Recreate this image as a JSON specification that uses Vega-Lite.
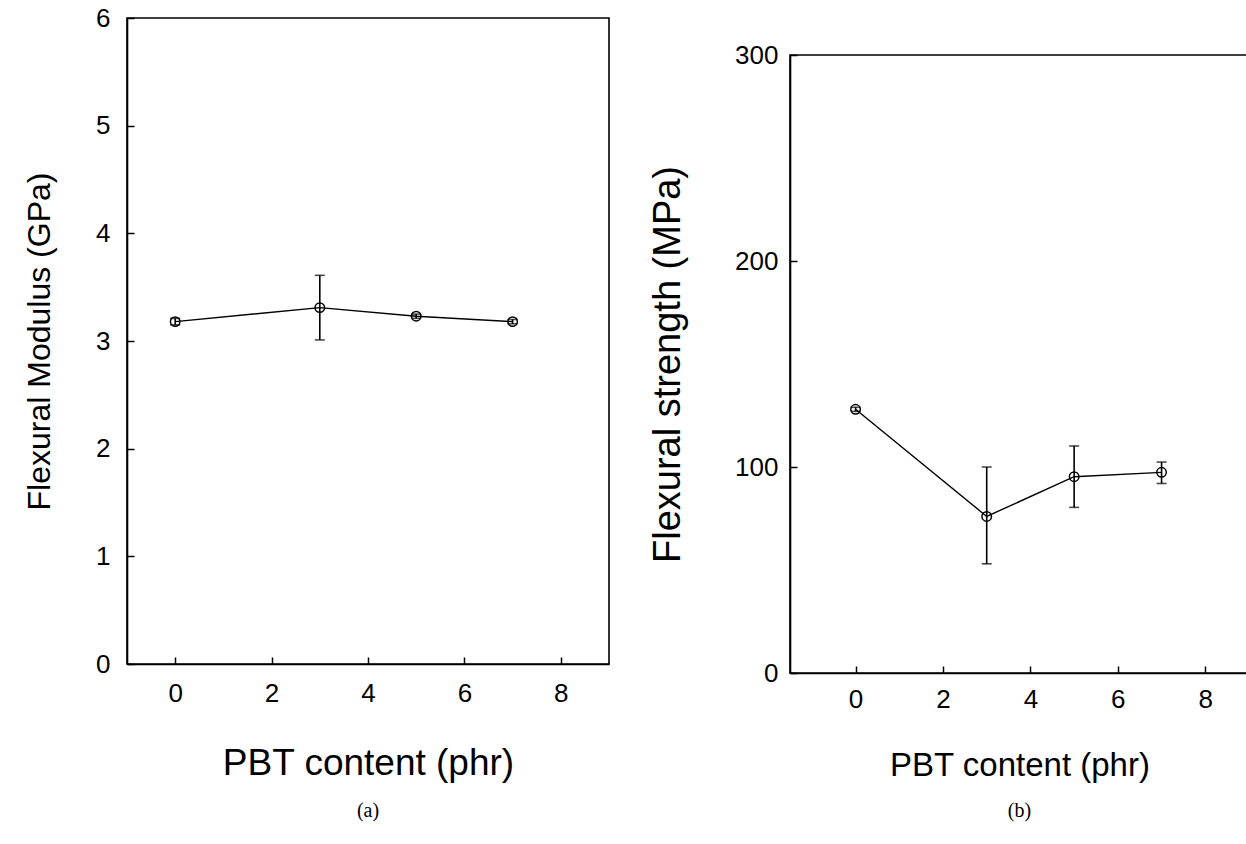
{
  "$schema": "https://vega.github.io/schema/vega-lite/v6.json",
  "padding": {"left": 22, "top": 4, "right": 0, "bottom": 0},
  "spacing": 38,
  "config": {
    "font": "Liberation Sans",
    "view": {"stroke": "black", "strokeWidth": 1.6},
    "axis": {
      "grid": false, "domainColor": "black", "domainWidth": 1.6,
      "tickColor": "black", "tickSize": -7, "tickWidth": 1.5,
      "labelColor": "black", "labelFontSize": 26, "labelFont": "Liberation Sans",
      "titleFontWeight": "normal", "titleColor": "black", "titleFont": "Liberation Sans"
    },
    "title": {"font": "Liberation Serif", "fontSize": 20, "fontWeight": "normal", "color": "black"}
  },
  "datasets": {
    "modulus": [
      {"pbt": 0, "value": 3.18, "lo": 3.15, "hi": 3.21},
      {"pbt": 3, "value": 3.31, "lo": 3.01, "hi": 3.61},
      {"pbt": 5, "value": 3.23, "lo": 3.21, "hi": 3.25},
      {"pbt": 7, "value": 3.18, "lo": 3.16, "hi": 3.2}
    ],
    "strength": [
      {"pbt": 0, "value": 128, "lo": 127, "hi": 129},
      {"pbt": 3, "value": 76, "lo": 53, "hi": 100},
      {"pbt": 5, "value": 95.3, "lo": 80.4, "hi": 110.2},
      {"pbt": 7, "value": 97.4, "lo": 92, "hi": 102.4}
    ]
  },
  "hconcat": [
    {
      "width": 482, "height": 646,
      "data": {"name": "modulus"},
      "title": {"text": "(a)", "orient": "bottom", "offset": 20, "frame": "group"},
      "encoding": {
        "x": {"field": "pbt", "type": "quantitative", "title": "PBT content (phr)",
          "scale": {"domain": [-1, 9], "nice": false, "zero": false},
          "axis": {"values": [0, 2, 4, 6, 8], "labelPadding": 23, "minExtent": 40, "maxExtent": 40, "titlePadding": 41, "titleFontSize": 37}}
      },
      "layer": [
        {"mark": {"type": "line", "color": "black", "strokeWidth": 1.4},
          "encoding": {"y": {"field": "value", "type": "quantitative", "title": "Flexural Modulus (GPa)",
            "scale": {"domain": [0, 6], "nice": false},
            "axis": {"values": [0, 1, 2, 3, 4, 5, 6], "format": "d", "labelPadding": 24, "minExtent": 40, "maxExtent": 40, "titlePadding": 31, "titleFontSize": 32}}}},
        {"mark": {"type": "rule", "color": "black", "strokeWidth": 1.6},
          "encoding": {"y": {"field": "lo", "type": "quantitative", "title": "Flexural Modulus (GPa)"}, "y2": {"field": "hi"}}},
        {"mark": {"type": "tick", "orient": "horizontal", "size": 10, "thickness": 1.6, "color": "black"},
          "encoding": {"y": {"field": "lo", "type": "quantitative", "title": "Flexural Modulus (GPa)"}}},
        {"mark": {"type": "tick", "orient": "horizontal", "size": 10, "thickness": 1.6, "color": "black"},
          "encoding": {"y": {"field": "hi", "type": "quantitative", "title": "Flexural Modulus (GPa)"}}},
        {"mark": {"type": "point", "shape": "circle", "filled": false, "size": 90, "color": "black", "strokeWidth": 1.5, "opacity": 1},
          "encoding": {"y": {"field": "value", "type": "quantitative", "title": "Flexural Modulus (GPa)"}}}
      ]
    },
    {
      "spacing": 0,
      "vconcat": [
        {
          "width": 459, "height": 23,
          "data": {"values": [{}]},
          "mark": {"type": "rule", "opacity": 0},
          "encoding": {},
          "view": {"stroke": null}
        },
        {
          "width": 459, "height": 618,
          "data": {"name": "strength"},
          "title": {"text": "(b)", "orient": "bottom", "offset": 19, "frame": "group"},
          "encoding": {
            "x": {"field": "pbt", "type": "quantitative", "title": "PBT content (phr)",
              "scale": {"domain": [-1.5, 9], "nice": false, "zero": false},
              "axis": {"values": [0, 2, 4, 6, 8], "labelPadding": 20, "minExtent": 40, "maxExtent": 40, "titlePadding": 36, "titleFontSize": 33}}
          },
          "layer": [
            {"mark": {"type": "line", "color": "black", "strokeWidth": 1.4},
              "encoding": {"y": {"field": "value", "type": "quantitative", "title": "Flexural strength (MPa)",
                "scale": {"domain": [0, 300], "nice": false},
                "axis": {"values": [0, 100, 200, 300], "labelPadding": 19, "minExtent": 60, "maxExtent": 60, "titlePadding": 43, "titleFontSize": 38}}}},
            {"mark": {"type": "rule", "color": "black", "strokeWidth": 1.6},
              "encoding": {"y": {"field": "lo", "type": "quantitative", "title": "Flexural strength (MPa)"}, "y2": {"field": "hi"}}},
            {"mark": {"type": "tick", "orient": "horizontal", "size": 10, "thickness": 1.6, "color": "black"},
              "encoding": {"y": {"field": "lo", "type": "quantitative", "title": "Flexural strength (MPa)"}}},
            {"mark": {"type": "tick", "orient": "horizontal", "size": 10, "thickness": 1.6, "color": "black"},
              "encoding": {"y": {"field": "hi", "type": "quantitative", "title": "Flexural strength (MPa)"}}},
            {"mark": {"type": "point", "shape": "circle", "filled": false, "size": 90, "color": "black", "strokeWidth": 1.5, "opacity": 1},
              "encoding": {"y": {"field": "value", "type": "quantitative", "title": "Flexural strength (MPa)"}}}
          ]
        }
      ]
    }
  ]
}
